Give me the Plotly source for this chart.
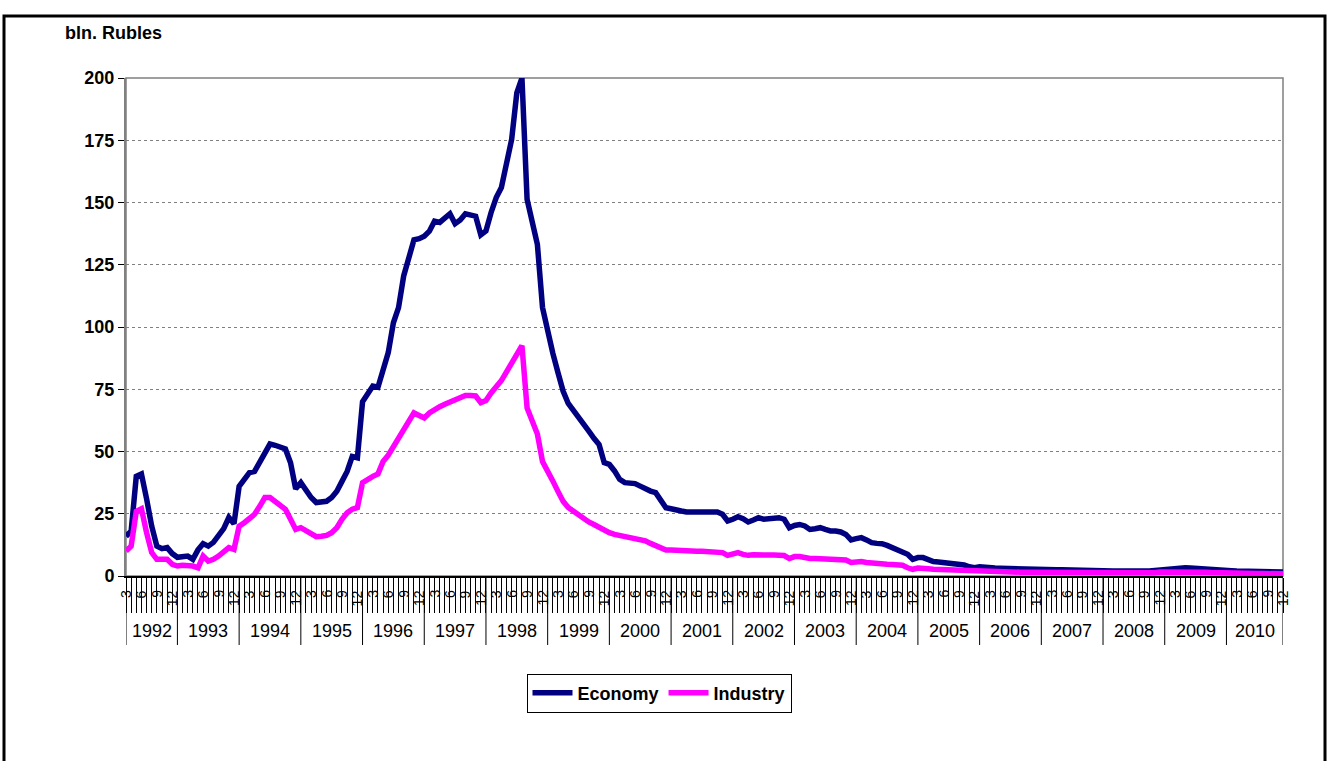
import plotly.graph_objects as go

# ---- data (monthly, March 1992 .. December 2010), bln. Rubles ----
years = [1992, 1993, 1994, 1995, 1996, 1997, 1998, 1999, 2000, 2001,
         2002, 2003, 2004, 2005, 2006, 2007, 2008, 2009, 2010]
first_month = 3
month_labels_shown = [3, 6, 9, 12]

economy = [
    16, 18, 40, 41, 31, 20, 12, 11, 11.4, 9,                                   # 1992 (Mar-Dec)
    7.5, 8, 8, 6.7, 10.5, 13, 12, 13.5, 16, 19, 23.5, 21,                      # 1993
    36, 39, 41.5, 42, 46, 50, 53, 52.5, 52, 51, 45.5, 35,                      # 1994
    37.5, 34, 31.5, 29.5, 29.5, 30, 31.5, 34, 38, 42, 48, 47.5,                # 1995
    70, 73.5, 76.3, 75.8, 83.7, 89.7, 101.7, 107.8, 120.5, 127.8, 135, 135.5,  # 1996
    136.5, 138.5, 142.5, 142, 144, 145.5, 141.5, 143, 145.5, 145, 144.5, 137,  # 1997
    138.6, 146, 152, 156, 164.7, 175.4, 194, 200, 151.3, 143.2, 133.2, 107.8,  # 1998
    98, 89.5, 81.7, 74.3, 69.3, 66.3, 64, 61, 58.2, 55.3, 52.8, 45.5,          # 1999
    44.8, 42.2, 38.8, 37.5, 37.1, 37.1, 36.1, 34.8, 34.1, 33.5, 30.8, 27.4,    # 2000
    27, 26.8, 26.1, 25.7, 25.7, 25.7, 25.4, 25.2, 25.7, 25.7, 24.8, 22.1,      # 2001
    22.8, 23.8, 23, 21.7, 22.5, 23.4, 22.8, 23, 23.4, 23.4, 22.8, 19.4,        # 2002
    20.3, 20.7, 20.1, 18.7, 19, 19.4, 18.7, 18.1, 18.1, 17.7, 16.7, 14.5,      # 2003
    15, 15.4, 14.5, 13.4, 13.1, 13, 12.3, 11.4, 11, 10, 8.7, 6.7,              # 2004
    7.4, 7.4, 6.3, 5.8, 5.6, 5.4, 5.1, 5, 4.7, 4.4, 3.7, 3.3,                  # 2005
    3.7, 3.4, 3.3, 3.2, 3.1, 3.0, 3.0, 2.9, 2.9, 2.8, 2.8, 2.7,                # 2006
    2.7, 2.6, 2.6, 2.5, 2.5, 2.4, 2.4, 2.3, 2.3, 2.2, 2.2, 2.1,                # 2007
    2.1, 2.0, 2.0, 2.0, 1.9, 1.9, 1.9, 1.9, 2.0, 2.0, 2.2, 2.6,                # 2008
    2.5, 3.0, 3.2, 3.3, 3.3, 3.2, 3.0, 2.8, 2.6, 2.5, 2.4, 2.3,                # 2009
    2.2, 2.1, 2.0, 2.0, 1.9, 1.9, 1.8, 1.8, 1.7, 1.7, 1.6, 1.6,                # 2010
]

industry = [
    10, 12, 26, 27, 17.4, 9.4, 6.7, 6.7, 6.7, 4.7,                             # 1992
    4, 4.3, 4.3, 4, 3.3, 8, 6, 6.7, 8, 9.4, 11.4, 10.7,                        # 1993
    20, 21.4, 23.4, 24.8, 28, 31.5, 31.5, 30, 28.8, 26.8, 22.8, 18.7,          # 1994
    19.4, 18, 16.7, 15.8, 16, 16.3, 17.4, 19.4, 22.8, 25.4, 26.8, 27.5,        # 1995
    37.5, 39, 40, 41, 46, 48.5, 52, 55, 58.5, 61.5, 65.5, 64.5,                # 1996
    63.5, 65.5, 67, 68, 69, 70, 70.5, 71.5, 72.5, 72.5, 72.3, 69.6,            # 1997
    70.5, 73.5, 76, 78.5, 82, 85.5, 89, 92.5, 67.5, 62, 57, 46,                # 1998
    42.5, 38.2, 34, 30, 27.5, 26.1, 24.4, 22.8, 21.7, 20.7, 19.4, 18.1,        # 1999
    17.4, 16.7, 16.3, 16.1, 15.8, 15.4, 14.7, 14.1, 13.1, 12.3, 11.4, 10.4,    # 2000
    10.4, 10.2, 10.1, 10, 10, 9.9, 9.9, 9.8, 9.8, 9.8, 9.4, 8.3,               # 2001
    9.1, 9.4, 8.7, 8.3, 8.5, 8.6, 8.5, 8.4, 8.4, 8.3, 8.2, 7,                  # 2002
    7.8, 7.8, 7.2, 7, 7, 6.9, 6.8, 6.7, 6.6, 6.6, 6.4, 5.4,                    # 2003
    5.7, 5.8, 5.4, 5.1, 5.0, 4.9, 4.7, 4.6, 4.4, 4.3, 3.3, 2.7,                # 2004
    3.2, 3.3, 2.9, 2.7, 2.6, 2.5, 2.4, 2.3, 2.2, 2.1, 2.0, 1.9,                # 2005
    1.9, 1.8, 1.8, 1.7, 1.7, 1.6, 1.6, 1.6, 1.5, 1.5, 1.5, 1.4,                # 2006
    1.4, 1.4, 1.3, 1.3, 1.3, 1.3, 1.2, 1.2, 1.2, 1.2, 1.1, 1.1,                # 2007
    1.1, 1.1, 1.0, 1.0, 1.0, 1.0, 1.0, 1.0, 1.1, 1.1, 1.3, 1.6,                # 2008
    1.6, 1.8, 1.9, 2.0, 2.0, 1.9, 1.8, 1.7, 1.5, 1.4, 1.3, 1.3,                # 2009
    1.2, 1.2, 1.1, 1.1, 1.1, 1.0, 1.0, 1.0, 0.9, 0.9, 0.9, 0.9,                # 2010
]

y_ticks = [0, 25, 50, 75, 100, 125, 150, 175, 200]

# ---- build category positions ----
months = []
year_of = []
for yi, yr in enumerate(years):
    start = first_month if yi == 0 else 1
    for m in range(start, 13):
        months.append(m)
        year_of.append(yr)
idx = list(range(len(months)))
n_last = len(months) - 1

# layout geometry (pixels) -> paper conversions
W, H = 1330, 761
L, R, T, B = 126, 47, 78, 185
pw, ph = W - L - R, H - T - B


def py(pix):  # pixel y -> paper y
    return (H - B - pix) / ph


def px(pix):  # pixel x -> paper x
    return (pix - L) / pw


FONT = "Liberation Sans, Arial, sans-serif"

fig = go.Figure()
fig.add_trace(go.Scatter(x=idx, y=economy, mode="lines", name="Economy",
                         line=dict(color="#000080", width=5.5)))
fig.add_trace(go.Scatter(x=idx, y=industry, mode="lines", name="Industry",
                         line=dict(color="#FF00FF", width=5.5)))

shapes = []
annotations = []

# year separators and labels
starts = []
for i in idx:
    if i == 0 or year_of[i] != year_of[i - 1]:
        starts.append(i)
bounds = starts + [n_last]
for b in bounds:
    shapes.append(dict(type="line", xref="x", yref="paper", x0=b, x1=b,
                       y0=0, y1=py(645), line=dict(color="black", width=1)))
for k, yr in enumerate(years):
    a, b = bounds[k], bounds[k + 1]
    annotations.append(dict(x=(a + b) / 2, y=py(631), xref="x", yref="paper",
                            text=str(yr), showarrow=False, yanchor="middle",
                            font=dict(family=FONT, size=18, color="black")))

# month labels (rotated)
for i, m in zip(idx, months):
    if m in month_labels_shown:
        annotations.append(dict(x=i, y=py(588), xref="x", yref="paper",
                                text=str(m), showarrow=False, textangle=-90,
                                xanchor="center", yanchor="top",
                                font=dict(family=FONT, size=14, color="black")))

# axis title
annotations.append(dict(x=px(63), y=py(33), xref="paper", yref="paper",
                        text="<b>bln. Rubles</b>", showarrow=False,
                        xanchor="left", yanchor="middle",
                        font=dict(family=FONT, size=18, color="black")))

# plot area border (top/right grey)
shapes.append(dict(type="rect", xref="paper", yref="paper", x0=0, x1=1, y0=0, y1=1,
                   line=dict(color="#808080", width=1.5), layer="below"))
# outer chart frame
shapes.append(dict(type="rect", xref="paper", yref="paper",
                   x0=px(4), x1=px(1325), y0=py(790), y1=py(16),
                   line=dict(color="black", width=3)))

fig.update_layout(
    width=W, height=H,
    margin=dict(l=L, r=R, t=T, b=B),
    paper_bgcolor="white", plot_bgcolor="white",
    showlegend=True,
    legend=dict(orientation="h", x=px(659), y=py(693), xanchor="center",
                yanchor="middle", bordercolor="black", borderwidth=1,
                bgcolor="white", font=dict(family=FONT, size=18, color="black",
                                           weight="bold"),
                itemwidth=40, tracegroupgap=0),
    shapes=shapes,
    annotations=annotations,
    xaxis=dict(range=[0, n_last], showgrid=False, zeroline=False,
               tickmode="linear", tick0=0, dtick=1, ticks="outside",
               ticklen=35, tickwidth=1, tickcolor="black",
               showticklabels=False, showline=True, linecolor="black",
               linewidth=1.5),
    yaxis=dict(range=[0, 200], tickmode="array", tickvals=y_ticks,
               ticktext=[str(v) for v in y_ticks],
               showgrid=True, gridcolor="#808080", griddash="dot", gridwidth=1,
               zeroline=False, ticks="outside", ticklen=6, tickcolor="black",
               showline=True, linecolor="#808080", linewidth=2,
               tickfont=dict(family=FONT, size=18, color="black", weight="bold")),
)

fig.write_html("out.html",
               config={"displayModeBar": False},
               post_script="document.body.style.margin='0';"
                           "document.body.style.overflow='hidden';")
